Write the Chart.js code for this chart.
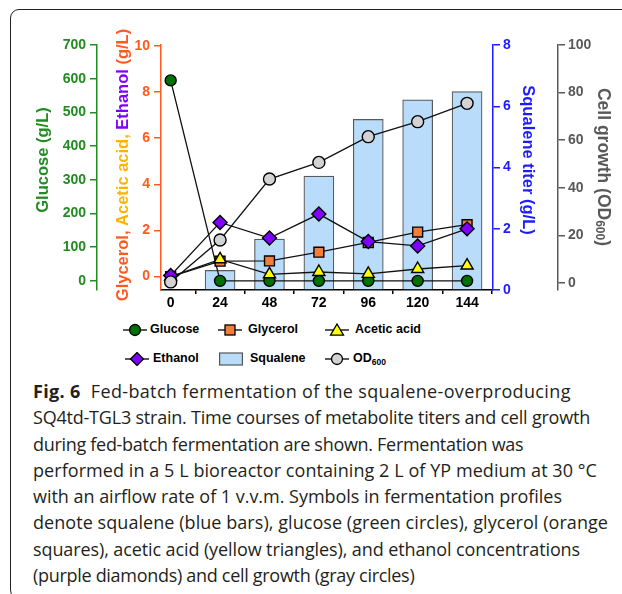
<!DOCTYPE html>
<html>
<head>
<meta charset="utf-8">
<script src="https://cdn.jsdelivr.net/npm/chart.js@4.4.1/dist/chart.umd.min.js"></script>
<style>
  body { margin: 0; width: 622px; height: 594px; overflow: hidden; position: relative; background: #fff; }
  .frame { position: absolute; left: 10px; top: 9px; width: 700px; height: 588px; border: 1.3px solid #222; border-radius: 9px; }
  #wrap { position: absolute; left: 0; top: 0; }
  .lg-sym { position: absolute; }
  .lg-txt { position: absolute; font: bold 12.5px "Liberation Sans", Arial, sans-serif; color: #000; line-height: 16px; white-space: nowrap; }
  .lg-txt sub { font-size: 8.5px; vertical-align: -3px; }
  .caption { position: absolute; left: 33px; top: 378px; font-family: "Open Sans", sans-serif; font-size: 18px; line-height: 26.3px; color: #231f20; }
  .caption div { white-space: nowrap; }
  .caption span { display: inline-block; }
  .caption b { font-weight: 700; }
</style>
</head>
<body>
<div class="frame"></div>
<div id="wrap"><canvas id="chart" width="622" height="315"></canvas></div>
<div id="legend"></div>
<div class="caption">
  <div><span data-w="557"><b>Fig. 6</b>&nbsp; Fed-batch fermentation of the squalene-overproducing</span></div>
  <div><span data-w="557">SQ4td-TGL3 strain. Time courses of metabolite titers and cell growth</span></div>
  <div><span data-w="429">during fed-batch fermentation are shown. Fermentation was</span></div>
  <div><span data-w="564">performed in a 5 L bioreactor containing 2 L of YP medium at 30 °C</span></div>
  <div><span data-w="529">with an airflow rate of 1 v.v.m. Symbols in fermentation profiles</span></div>
  <div><span data-w="575">denote squalene (blue bars), glucose (green circles), glycerol (orange</span></div>
  <div><span data-w="547">squares), acetic acid (yellow triangles), and ethanol concentrations</span></div>
  <div><span data-w="362">(purple diamonds) and cell growth (gray circles)</span></div>
</div>
<script>
// fermentation time (h)
const hours = [0, 24, 48, 72, 96, 120, 144];

// values
const glucose = [595, 0, 0, 0, 0, 0, 0];              // g/L
const glycerol = [0, 0.67, 0.68, 1.06, 1.48, 1.93, 2.25]; // g/L
const aceticAcid = [0, 0.75, 0.1, 0.2, 0.12, 0.33, 0.48]; // g/L
const ethanol = [0.05, 2.35, 1.67, 2.71, 1.52, 1.33, 2.07]; // g/L
const squalene = [0, 0.64, 1.66, 3.72, 5.57, 6.21, 6.48]; // g/L
const od600 = [0.5, 18.1, 43.7, 50.7, 61.5, 67.8, 75.5];

// tick labels
const glucoseTicks = [0, 100, 200, 300, 400, 500, 600, 700];
const metaboliteTicks = [0, 2, 4, 6, 8, 10];
const squaleneTicks = [0, 2, 4, 6, 8];
const odTicks = [0, 20, 40, 60, 80, 100];

const GREEN = '#228b22', RED = '#ff5a1f', AMBER = '#ffb300', PURPLE = '#8000ff', BLUE = '#1c1cff', GRAY = '#595959';
const FONT = '"Liberation Sans", Arial, sans-serif';

const pts = arr => hours.map((h, i) => ({ x: h, y: arr[i] }));
const fixedTicks = list => scale => { scale.ticks = list.map(v => ({ value: v })); };

function yAxis(pos, weight, min, max, ticks, color, width) {
  return {
    position: pos, weight, min, max,
    afterBuildTicks: fixedTicks(ticks),
    afterFit: s => { s.width = width; },
    ticks: { color, font: { family: FONT, size: 14, weight: 'bold' }, padding: pos === 'left' ? 4 : 3 },
    grid: { drawOnChartArea: false, color, tickColor: color, tickLength: 7, lineWidth: 1.5 },
    border: { color, width: 1.5 }
  };
}

function lineSet(label, data, axis, style, radius, fill, order) {
  return {
    type: 'line', label, data: pts(data), yAxisID: axis, order,
    borderColor: '#111', borderWidth: 1.3, tension: 0,
    pointStyle: style, pointRadius: radius, pointHoverRadius: radius,
    pointBackgroundColor: fill, pointBorderColor: '#000', pointBorderWidth: 1.4
  };
}

// rotated, multi-coloured axis titles
function drawVertical(ctx, cx, cy, dir, parts) {
  ctx.save();
  ctx.translate(cx, cy);
  ctx.rotate(dir * Math.PI / 2);
  let total = 0;
  parts.forEach(p => { ctx.font = p.font; total += ctx.measureText(p.text).width; });
  let x = -total / 2;
  ctx.textBaseline = 'middle';
  ctx.textAlign = 'left';
  parts.forEach(p => {
    ctx.font = p.font;
    ctx.fillStyle = p.color;
    ctx.fillText(p.text, x, p.dy || 0);
    x += ctx.measureText(p.text).width;
  });
  ctx.restore();
}

const TF = 'bold 16.5px ' + FONT;
const axisTitles = {
  id: 'axisTitles',
  afterDraw(chart) {
    const { ctx, scales } = chart;
    drawVertical(ctx, scales.yGlu.left + 43, 160, -1, [{ text: 'Glucose (g/L)', color: GREEN, font: TF }]);
    drawVertical(ctx, scales.yMet.left + 26, 165, -1, [
      { text: 'Glycerol, ', color: RED, font: TF },
      { text: 'Acetic acid, ', color: AMBER, font: TF },
      { text: 'Ethanol ', color: PURPLE, font: TF },
      { text: '(g/L)', color: RED, font: TF }
    ]);
    drawVertical(ctx, scales.ySq.left + 35, 160, 1, [{ text: 'Squalene titer (g/L)', color: BLUE, font: TF }]);
    drawVertical(ctx, scales.yOD.left + 45, 167, 1, [
      { text: 'Cell growth (OD', color: GRAY, font: 'bold 17.5px ' + FONT },
      { text: '600', color: GRAY, font: 'bold 12px ' + FONT, dy: 4 },
      { text: ')', color: GRAY, font: 'bold 17.5px ' + FONT }
    ]);
  }
};

new Chart(document.getElementById('chart'), {
  type: 'bar',
  data: {
    datasets: [
      lineSet('OD600', od600, 'yOD', 'circle', 6, '#d3d3d3', 0),
      lineSet('Ethanol', ethanol, 'yMet', 'rectRot', 7, PURPLE, 1),
      lineSet('Acetic acid', aceticAcid, 'yMet', 'triangle', 7, '#ffff00', 2),
      lineSet('Glycerol', glycerol, 'yMet', 'rect', 7, '#f47d3c', 3),
      lineSet('Glucose', glucose, 'yGlu', 'circle', 5.5, '#007000', 4),
      {
        type: 'bar', label: 'Squalene', data: pts(squalene), yAxisID: 'ySq', order: 10,
        barThickness: 30, backgroundColor: '#b9dcfa', borderColor: '#5a5a5a', borderWidth: 1.2
      }
    ]
  },
  options: {
    responsive: false,
    animation: false,
    layout: { padding: { top: 45, bottom: 0, left: 0, right: 0 } },
    plugins: { legend: { display: false }, tooltip: { enabled: false } },
    scales: {
      x: {
        type: 'linear', min: -4.7, max: 156.6, offset: false,
        afterBuildTicks: fixedTicks(hours),
        afterFit: s => { s.height = 25; },
        ticks: { color: '#000', font: { family: FONT, size: 14, weight: 'bold' }, padding: 1, autoSkip: false, maxRotation: 0 },
        grid: { drawOnChartArea: false, color: '#000', tickLength: 4, lineWidth: 1.5 },
        border: { color: '#000', width: 1.5 }
      },
      yGlu: yAxis('left', 2, -27, 700, glucoseTicks, GREEN, 97),
      yMet: yAxis('left', 1, -0.58, 10.04, metaboliteTicks, RED, 64),
      ySq: yAxis('right', 1, 0, 8, squaleneTicks, BLUE, 65),
      yOD: yAxis('right', 2, -2.9, 100, odTicks, GRAY, 64)
    }
  },
  plugins: [axisTitles]
});

// legend, two rows of three entries
const legendItems = [
  { label: 'Glucose', sym: 'circle', fill: '#007000', sx: 123, tx: 150, row: 0 },
  { label: 'Glycerol', sym: 'square', fill: '#f47d3c', sx: 218, tx: 248, row: 0 },
  { label: 'Acetic acid', sym: 'triangle', fill: '#ffff00', sx: 325, tx: 355, row: 0 },
  { label: 'Ethanol', sym: 'diamond', fill: PURPLE, sx: 125, tx: 153, row: 1 },
  { label: 'Squalene', sym: 'bar', fill: '#b9dcfa', sx: 219, tx: 250, row: 1 },
  { label: 'OD<sub>600</sub>', sym: 'circle', fill: '#d3d3d3', sx: 325, tx: 353, row: 1 }
];
const rowCenter = [330, 359];
function symbolSvg(kind, fill) {
  const line = '<line x1="0" y1="7" x2="24" y2="7" stroke="#000" stroke-width="1.3"/>';
  const st = 'fill="' + fill + '" stroke="#000" stroke-width="1.3"';
  let mark;
  if (kind === 'circle') mark = '<circle cx="12" cy="7" r="5.5" ' + st + '/>';
  else if (kind === 'square') mark = '<rect x="7" y="2" width="10" height="10" ' + st + '/>';
  else if (kind === 'triangle') mark = '<polygon points="12,1 18.5,12.2 5.5,12.2" ' + st + '/>';
  else if (kind === 'diamond') mark = '<polygon points="12,0.5 18.5,7 12,13.5 5.5,7" ' + st + '/>';
  else return '<svg width="24" height="14"><rect x="0.6" y="1" width="22.8" height="12" fill="' + fill + '" stroke="#555" stroke-width="1.2"/></svg>';
  return '<svg width="24" height="14">' + line + mark + '</svg>';
}
const legendEl = document.getElementById('legend');
legendItems.forEach(it => {
  const cy = rowCenter[it.row];
  legendEl.insertAdjacentHTML('beforeend',
    '<div class="lg-sym" style="left:' + it.sx + 'px;top:' + (cy - 7) + 'px">' + symbolSvg(it.sym, it.fill) + '</div>' +
    '<div class="lg-txt" style="left:' + it.tx + 'px;top:' + (cy - 9) + 'px">' + it.label + '</div>');
});

// caption: nudge each line towards its printed width, without squashing the text
function fitCaption() {
  document.querySelectorAll('.caption span').forEach(sp => {
    sp.style.letterSpacing = '0px';
    const natural = sp.getBoundingClientRect().width;
    const n = sp.textContent.length;
    const ls = Math.max(-0.3, Math.min(0.35, (+sp.dataset.w - natural) / n));
    sp.style.letterSpacing = ls.toFixed(3) + 'px';
  });
}
fitCaption();
if (document.fonts) document.fonts.ready.then(fitCaption);
</script>
</body>
</html>
